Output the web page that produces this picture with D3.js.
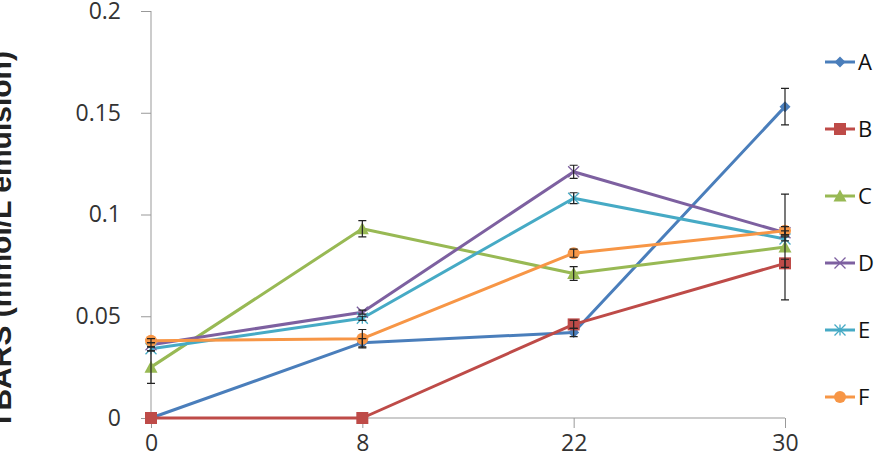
<!DOCTYPE html>
<html><head><meta charset="utf-8">
<script src="https://cdn.jsdelivr.net/npm/d3@7"></script>
<style>body{margin:0;background:#fff}svg{display:block}</style>
</head><body>
<svg id="c" width="889" height="474"></svg>
<script>
const categories = ["0","8","22","30"];
const seriesNames = ["A","B","C","D","E","F"];
const valuesA = [0.000, 0.037, 0.042, 0.153];
const valuesB = [0.000, 0.000, 0.046, 0.076];
const valuesC = [0.025, 0.093, 0.071, 0.084];
const valuesD = [0.036, 0.052, 0.121, 0.091];
const valuesE = [0.034, 0.049, 0.108, 0.088];
const valuesF = [0.038, 0.039, 0.081, 0.092];
const errA = [0, 0.002, 0.002, 0.009];
const errB = [0, 0, 0.002, 0.002];
const errC = [0.008, 0.004, 0.0034, 0.026];
const errD = [0.001, 0.001, 0.0032, 0.001];
const errE = [0.001, 0.001, 0.0027, 0.001];
const errF = [0.001, 0.0045, 0.002, 0.002];
const yTicks = [0, 0.05, 0.1, 0.15, 0.2];
const yTickLabels = ["0","0.05","0.1","0.15","0.2"];
const yTitle = "TBARS (mmol/L emulsion)";

const colors = ["#4A7EBB","#BE4B48","#98B954","#7D60A0","#46AAC5","#F79646"];
const markers = ["diamond","square","triangle","xcross","asterisk","circle"];
const allVals = [valuesA,valuesB,valuesC,valuesD,valuesE,valuesF];
const allErr = [errA,errB,errC,errD,errE,errF];
const series = seriesNames.map((n,i)=>({name:n,values:allVals[i],err:allErr[i],color:colors[i],marker:markers[i]}));

const svg = d3.select("#c");
const x = d3.scalePoint().domain(categories).range([151,785]);
const y = d3.scaleLinear().domain([0,0.2]).range([418,11]);
const font = "'Open Sans', 'Noto Sans', sans-serif";

// y axis
const ya = svg.append("g").attr("transform","translate(151,0)")
  .call(d3.axisLeft(y).tickValues(yTicks).tickFormat((d,i)=>yTickLabels[i]).tickSize(10).tickPadding(20));
ya.select(".domain").attr("stroke","#999").attr("d","M0,11V418");
ya.selectAll(".tick line").attr("stroke","#999");
ya.selectAll(".tick text").attr("font-family",font).attr("font-size","23px").attr("fill","#333");

// x axis
const xa = svg.append("g").attr("transform","translate(0,418)")
  .call(d3.axisBottom(x).tickSize(10).tickPadding(7));
xa.select(".domain").attr("stroke","#999").attr("d","M151,0H785");
xa.selectAll(".tick line").attr("stroke","#999");
xa.selectAll(".tick text").attr("font-family",font).attr("font-size","23px").attr("fill","#333");

// y title
svg.append("text").attr("transform","translate(11,240) rotate(-90)")
  .attr("text-anchor","middle").attr("font-family","'Liberation Sans', Arial, sans-serif")
  .attr("font-weight","bold").attr("font-size","30px").attr("fill","#222").text(yTitle);

function drawMarker(g, type, color, cx, cy, scale){
  const s = scale||1;
  if(type==="diamond"){
    g.append("path").attr("d",`M${cx},${cy-5.5*s}L${cx+5.5*s},${cy}L${cx},${cy+5.5*s}L${cx-5.5*s},${cy}Z`).attr("fill",color);
  } else if(type==="square"){
    g.append("rect").attr("x",cx-6*s).attr("y",cy-6*s).attr("width",12*s).attr("height",12*s).attr("fill",color);
  } else if(type==="triangle"){
    g.append("path").attr("d",`M${cx},${cy-6.5*s}L${cx+6.5*s},${cy+5.5*s}L${cx-6.5*s},${cy+5.5*s}Z`).attr("fill",color);
  } else if(type==="xcross"){
    const r=5.5*s;
    g.append("path").attr("d",`M${cx-r},${cy-r}L${cx+r},${cy+r}M${cx-r},${cy+r}L${cx+r},${cy-r}`).attr("stroke",color).attr("stroke-width",1.3);
  } else if(type==="asterisk"){
    const r=5.5*s;
    g.append("path").attr("d",`M${cx-r},${cy-r}L${cx+r},${cy+r}M${cx-r},${cy+r}L${cx+r},${cy-r}M${cx},${cy-r}V${cy+r}`).attr("stroke",color).attr("stroke-width",1.3);
  } else if(type==="circle"){
    g.append("circle").attr("cx",cx).attr("cy",cy).attr("r",6*s).attr("fill",color);
  }
}

// lines
const line = d3.line().x((d,i)=>x(categories[i])).y(d=>y(d));
series.forEach(s=>{
  svg.append("path").datum(s.values).attr("d",line).attr("fill","none")
    .attr("stroke",s.color).attr("stroke-width",3).attr("stroke-linejoin","round");
});
// markers
series.forEach(s=>{
  const g = svg.append("g");
  s.values.forEach((v,i)=>drawMarker(g,s.marker,s.color,x(categories[i]),y(v)));
});
// error bars
series.forEach(s=>{
  const g = svg.append("g").attr("stroke","#222").attr("stroke-width",1.2).attr("fill","none");
  s.values.forEach((v,i)=>{
    const e=s.err[i]; if(!e) return;
    const cx=x(categories[i]), y1=y(v+e), y2=y(v-e);
    g.append("path").attr("d",`M${cx},${y1}V${y2}M${cx-4},${y1}H${cx+4}M${cx-4},${y2}H${cx+4}`);
  });
});

// legend
const lg = svg.append("g");
const legY = d3.scalePoint().domain(seriesNames).range([62,397]);
series.forEach(s=>{
  const ly = legY(s.name);
  lg.append("line").attr("x1",825).attr("x2",855).attr("y1",ly).attr("y2",ly).attr("stroke",s.color).attr("stroke-width",3);
  drawMarker(lg,s.marker,s.color,840,ly);
  lg.append("text").attr("x",858).attr("y",ly).attr("dy","0.36em").attr("font-family",font)
    .attr("font-size","22px").attr("fill","#111").text(s.name);
});
</script>
</body></html>
